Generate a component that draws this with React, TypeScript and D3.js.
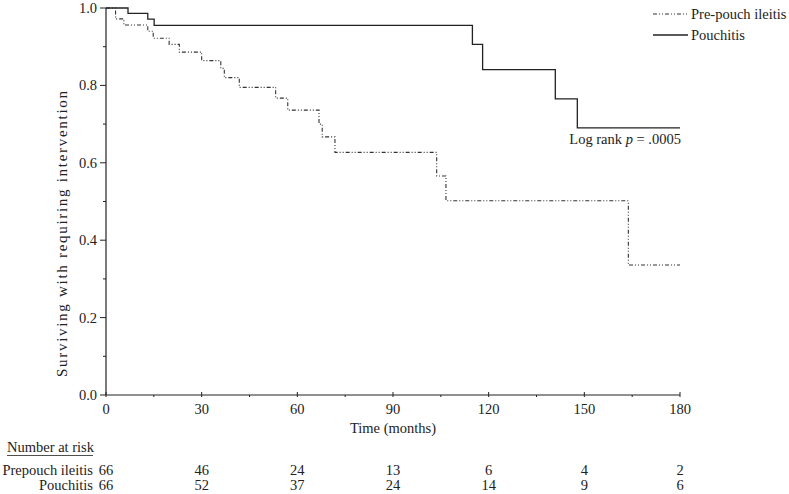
import React from "react";
import * as d3 from "d3";

const prepouchTimes = [0, 3.0, 5.6, 13.1, 14.8, 19.8, 23.0, 30.0, 36.0, 37.1, 41.8, 53.2, 57.0, 66.8, 67.8, 71.8, 103.7, 106.6, 163.8, 180];
const prepouchSurv = [1.0, 0.972, 0.956, 0.94, 0.922, 0.906, 0.886, 0.864, 0.844, 0.82, 0.795, 0.767, 0.736, 0.70, 0.667, 0.627, 0.566, 0.502, 0.336, 0.336];

const pouchitisTimes = [0, 6.9, 13.1, 15.1, 114.9, 118.1, 140.9, 147.8, 180];
const pouchitisSurv = [1.0, 0.986, 0.971, 0.955, 0.906, 0.841, 0.765, 0.69, 0.69];

const xTicks = [0, 30, 60, 90, 120, 150, 180];
const xMinorTicks = [15, 45, 75, 105, 135, 165];
const yTicks = [0, 0.2, 0.4, 0.6, 0.8, 1.0];
const yMinorTicks = [0.1, 0.3, 0.5, 0.7, 0.9];

const riskTimes = [0, 30, 60, 90, 120, 150, 180];
const riskPrepouch = [66, 46, 24, 13, 6, 4, 2];
const riskPouchitis = [66, 52, 37, 24, 14, 9, 6];

const seriesNames = ["Pre-pouch ileitis", "Pouchitis"];

const FONT = "'Liberation Serif', 'Times New Roman', serif";
const INK = "#222";
const FS = 14.5;

export default function App() {
  const x = d3.scaleLinear().domain([0, 180]).range([106, 680]);
  const y = d3.scaleLinear().domain([0, 1]).range([395, 8]);
  const line = d3
    .line<[number, number]>()
    .x((d) => x(d[0]))
    .y((d) => y(d[1]))
    .curve(d3.curveStepAfter);

  const prepouchPath = line(prepouchTimes.map((t, i) => [t, prepouchSurv[i]]) as [number, number][]) || "";
  const pouchitisPath = line(pouchitisTimes.map((t, i) => [t, pouchitisSurv[i]]) as [number, number][]) || "";
  const fmt = d3.format(".1f");
  const dash = "4,2,1,2,1,2";

  return (
    <svg
      width={789}
      height={494}
      style={{ position: "absolute", left: 0, top: 0, background: "#fff" }}
      fontFamily={FONT}
    >
      {/* curves */}
      <path d={prepouchPath} fill="none" stroke="#333" strokeWidth={1.1} strokeDasharray={dash} />
      <path d={pouchitisPath} fill="none" stroke="#222" strokeWidth={1.3} />

      {/* y axis */}
      <line x1={x(0)} x2={x(0)} y1={y(0)} y2={y(1)} stroke={INK} strokeWidth={1.2} />
      {yTicks.map((t) => (
        <g key={"y" + t}>
          <line x1={x(0) - 6} x2={x(0)} y1={y(t)} y2={y(t)} stroke={INK} strokeWidth={1} />
          <text x={97} y={y(t)} dy="0.35em" textAnchor="end" fontSize={FS} fill={INK}>
            {fmt(t)}
          </text>
        </g>
      ))}
      {yMinorTicks.map((t) => (
        <line key={"ym" + t} x1={x(0) - 3} x2={x(0)} y1={y(t)} y2={y(t)} stroke={INK} strokeWidth={1} />
      ))}
      <text
        transform={`translate(67,234) rotate(-90)`}
        textAnchor="middle"
        fontSize={15}
        fill={INK}
        textLength={286}
        lengthAdjust="spacing"
      >
        Surviving with requiring intervention
      </text>

      {/* x axis */}
      <line x1={x(0)} x2={x(180)} y1={y(0)} y2={y(0)} stroke={INK} strokeWidth={1.2} />
      {xTicks.map((t) => (
        <g key={"x" + t}>
          <line x1={x(t)} x2={x(t)} y1={y(0) - 3} y2={y(0) + 2} stroke={INK} strokeWidth={1} />
          <text x={x(t)} y={414} textAnchor="middle" fontSize={FS} fill={INK}>
            {t}
          </text>
        </g>
      ))}
      {xMinorTicks.map((t) => (
        <line key={"xm" + t} x1={x(t)} x2={x(t)} y1={y(0)} y2={y(0) + 2} stroke={INK} strokeWidth={1} />
      ))}
      <text x={(x(0) + x(180)) / 2} y={433} textAnchor="middle" fontSize={FS} fill={INK}>
        Time (months)
      </text>

      {/* legend */}
      <line x1={653} x2={688} y1={14} y2={14} stroke="#333" strokeWidth={1.1} strokeDasharray={dash} />
      <text x={691} y={14} dy="0.35em" fontSize={FS} fill={INK}>
        {seriesNames[0]}
      </text>
      <line x1={653} x2={688} y1={35} y2={35} stroke="#222" strokeWidth={1.3} />
      <text x={691} y={35} dy="0.35em" fontSize={FS} fill={INK}>
        {seriesNames[1]}
      </text>

      {/* log rank */}
      <text x={681} y={144} textAnchor="end" fontSize={FS} fill={INK}>
        Log rank <tspan fontStyle="italic">p</tspan> = .0005
      </text>

      {/* number at risk */}
      <text x={7} y={452} fontSize={FS} fill={INK}>
        Number at risk
      </text>
      <line x1={7} x2={93} y1={455.5} y2={455.5} stroke={INK} strokeWidth={0.8} />
      <text x={93} y={475} textAnchor="end" fontSize={FS} fill={INK}>
        Prepouch ileitis
      </text>
      <text x={93} y={490} textAnchor="end" fontSize={FS} fill={INK}>
        Pouchitis
      </text>
      {riskTimes.map((t, i) => (
        <g key={"r" + t}>
          <text x={x(t)} y={475} textAnchor="middle" fontSize={FS} fill={INK}>
            {riskPrepouch[i]}
          </text>
          <text x={x(t)} y={490} textAnchor="middle" fontSize={FS} fill={INK}>
            {riskPouchitis[i]}
          </text>
        </g>
      ))}
    </svg>
  );
}
